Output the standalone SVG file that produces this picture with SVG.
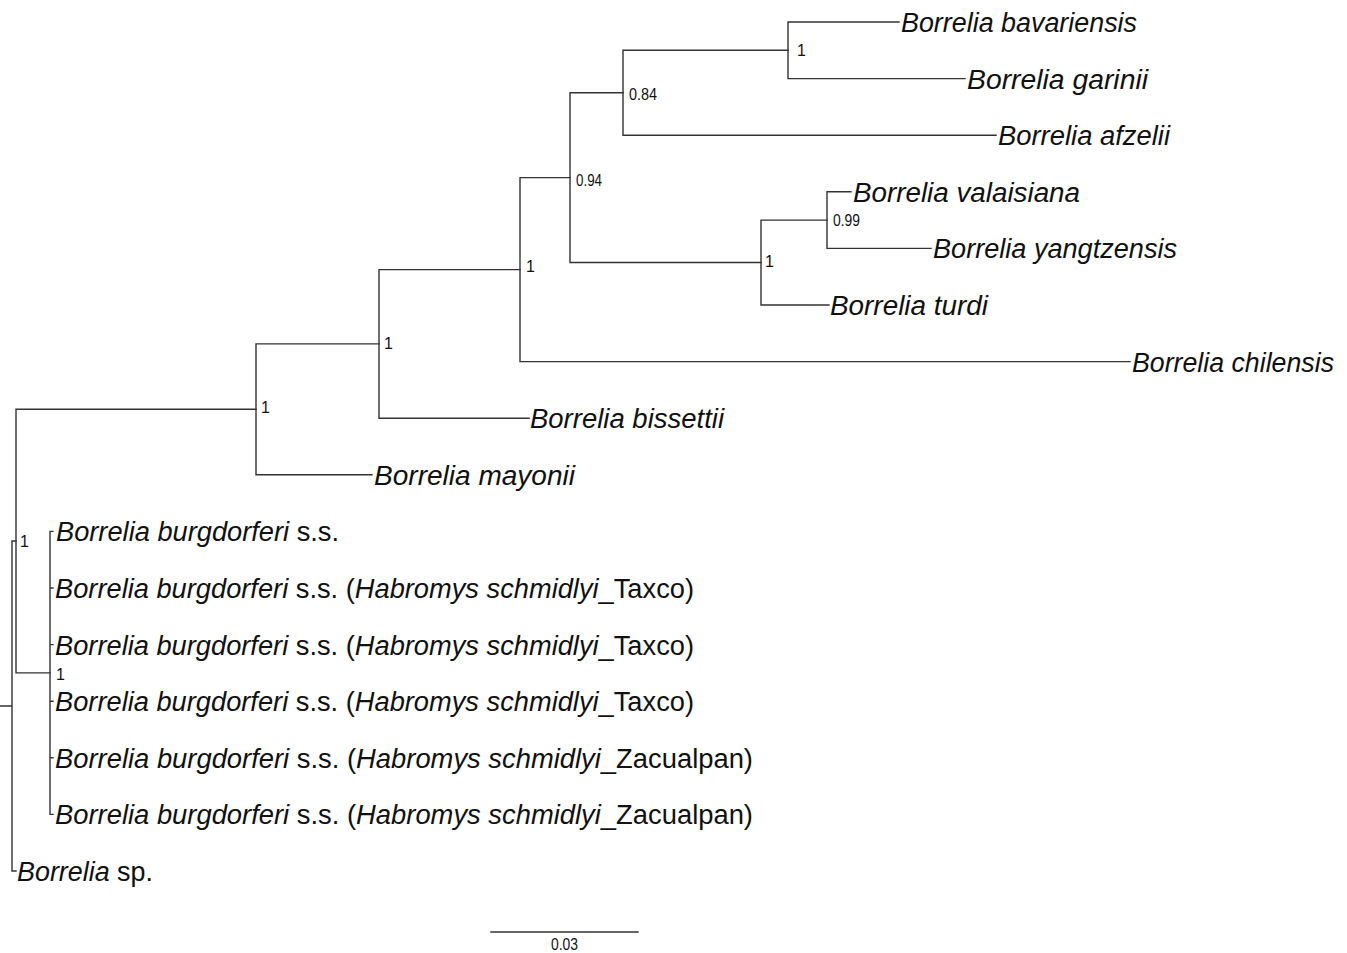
<svg xmlns="http://www.w3.org/2000/svg" width="1347" height="953" viewBox="0 0 1347 953">
<style>
.br{fill:none;stroke:#333;stroke-width:1.4;stroke-linecap:square}
.lf{font-family:"Liberation Sans",Arial,sans-serif;font-size:27px;fill:#111}
.it{font-style:italic}
.sp{font-family:"Liberation Sans",Arial,sans-serif;font-size:16px;fill:#111}
</style>
<rect width="1347" height="953" fill="#fff"/>
<g id="connectors" class="br">
<path d="M0,706 H12 M12,541 V871 M12,541 H16 M12,871 H16"/>
<path d="M16,409.3 V672.9 M16,409.3 H256 M16,672.9 H50"/>
<path d="M50,531.4 V814.4 M50,531.4 H53 M50,588 H53 M50,644.6 H53 M50,701.2 H53 M50,757.8 H53 M50,814.4 H53"/>
<path d="M256,343.9 V474.8 M256,343.9 H379 M256,474.8 H372"/>
<path d="M379,269.6 V418.2 M379,269.6 H520 M379,418.2 H529"/>
<path d="M520,177.6 V361.6 M520,177.6 H570 M520,361.6 H1130"/>
<path d="M570,92.75 V262.5 M570,92.75 H623 M570,262.5 H761"/>
<path d="M623,50.3 V135.2 M623,50.3 H788 M623,135.2 H996"/>
<path d="M788,22 V78.6 M788,22 H899 M788,78.6 H965"/>
<path d="M761,220.1 V305 M761,220.1 H827 M761,305 H829"/>
<path d="M827,191.8 V248.4 M827,191.8 H851 M827,248.4 H931"/>
</g>
<g id="supports" class="sp">
<text x="797" y="56">1</text>
<text x="629" y="100" textLength="28" lengthAdjust="spacingAndGlyphs">0.84</text>
<text x="576" y="186" textLength="26" lengthAdjust="spacingAndGlyphs">0.94</text>
<text x="833" y="226" textLength="27" lengthAdjust="spacingAndGlyphs">0.99</text>
<text x="765" y="267">1</text>
<text x="526" y="272">1</text>
<text x="384" y="349">1</text>
<text x="261" y="413">1</text>
<text x="20" y="547">1</text>
<text x="56" y="680">1</text>
</g>
<g id="leaf-bavariensis"><text class="lf it" x="901" y="32" textLength="236" lengthAdjust="spacingAndGlyphs">Borrelia bavariensis</text></g>
<g id="leaf-garinii"><text class="lf it" x="967" y="88.6" textLength="181" lengthAdjust="spacingAndGlyphs">Borrelia garinii</text></g>
<g id="leaf-afzelii"><text class="lf it" x="998" y="145.2" textLength="172" lengthAdjust="spacingAndGlyphs">Borrelia afzelii</text></g>
<g id="leaf-valaisiana"><text class="lf it" x="853" y="201.8" textLength="227" lengthAdjust="spacingAndGlyphs">Borrelia valaisiana</text></g>
<g id="leaf-yangtzensis"><text class="lf it" x="933" y="258.4" textLength="244" lengthAdjust="spacingAndGlyphs">Borrelia yangtzensis</text></g>
<g id="leaf-turdi"><text class="lf it" x="830" y="315" textLength="158" lengthAdjust="spacingAndGlyphs">Borrelia turdi</text></g>
<g id="leaf-chilensis"><text class="lf it" x="1132" y="371.6" textLength="202" lengthAdjust="spacingAndGlyphs">Borrelia chilensis</text></g>
<g id="leaf-bissettii"><text class="lf it" x="530" y="428.2" textLength="194" lengthAdjust="spacingAndGlyphs">Borrelia bissettii</text></g>
<g id="leaf-mayonii"><text class="lf it" x="374" y="484.8" textLength="201" lengthAdjust="spacingAndGlyphs">Borrelia mayonii</text></g>
<g id="leaf-bb1"><text class="lf" x="56" y="541.4" textLength="283" lengthAdjust="spacingAndGlyphs"><tspan class="it">Borrelia burgdorferi</tspan> s.s.</text></g>
<g id="leaf-bb2"><text class="lf" x="55" y="598" textLength="639" lengthAdjust="spacingAndGlyphs"><tspan class="it">Borrelia burgdorferi</tspan> s.s. (<tspan class="it">Habromys schmidlyi</tspan>_Taxco)</text></g>
<g id="leaf-bb3"><text class="lf" x="55" y="654.6" textLength="639" lengthAdjust="spacingAndGlyphs"><tspan class="it">Borrelia burgdorferi</tspan> s.s. (<tspan class="it">Habromys schmidlyi</tspan>_Taxco)</text></g>
<g id="leaf-bb4"><text class="lf" x="55" y="711.2" textLength="639" lengthAdjust="spacingAndGlyphs"><tspan class="it">Borrelia burgdorferi</tspan> s.s. (<tspan class="it">Habromys schmidlyi</tspan>_Taxco)</text></g>
<g id="leaf-bb5"><text class="lf" x="55" y="767.8" textLength="698" lengthAdjust="spacingAndGlyphs"><tspan class="it">Borrelia burgdorferi</tspan> s.s. (<tspan class="it">Habromys schmidlyi</tspan>_Zacualpan)</text></g>
<g id="leaf-bb6"><text class="lf" x="55" y="824.4" textLength="698" lengthAdjust="spacingAndGlyphs"><tspan class="it">Borrelia burgdorferi</tspan> s.s. (<tspan class="it">Habromys schmidlyi</tspan>_Zacualpan)</text></g>
<g id="leaf-sp"><text class="lf" x="17" y="881" textLength="136" lengthAdjust="spacingAndGlyphs"><tspan class="it">Borrelia</tspan> sp.</text></g>
<g id="scalebar">
<path class="br" d="M491,932 H638"/>
<text class="sp" x="564.5" y="950" text-anchor="middle" textLength="27" lengthAdjust="spacingAndGlyphs">0.03</text>
</g>
</svg>
